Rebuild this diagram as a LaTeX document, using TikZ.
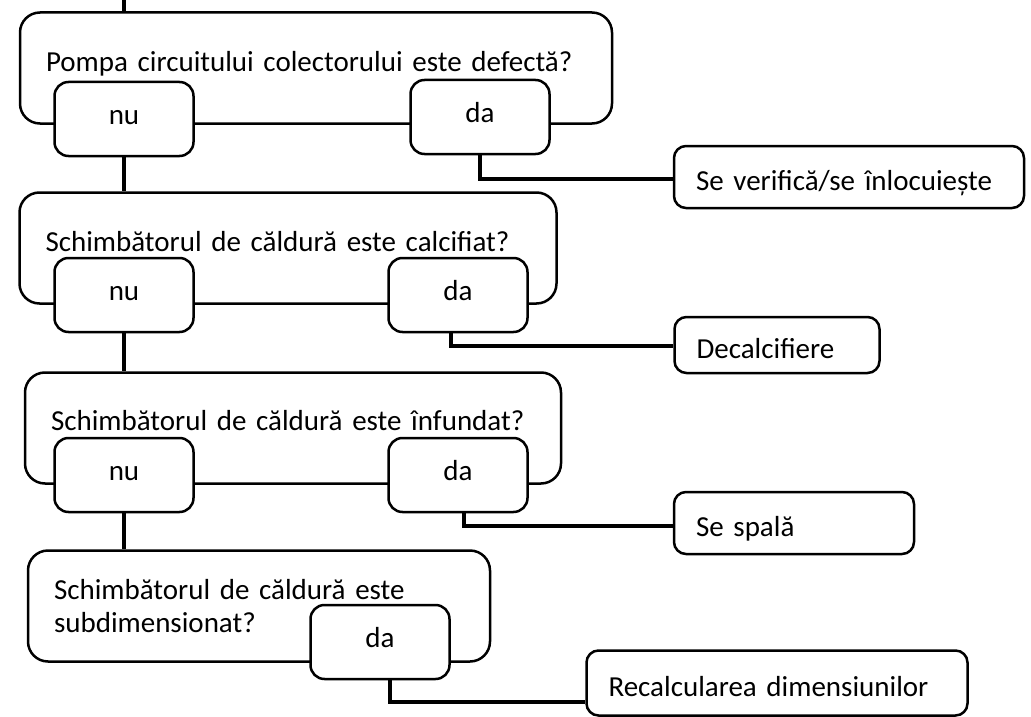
\documentclass[tikz,border=0pt]{standalone}
\usepackage{fontspec}
\setmainfont{Carlito}
\usetikzlibrary{positioning}
\tikzstyle{question} = [rectangle, rounded corners=20pt, draw=black, line width=2.5pt, align=left, inner xsep=26pt, minimum height=111pt, font=\fontsize{29}{33}\selectfont]
\tikzstyle{reply} = [rectangle, rounded corners=14pt, draw=black, fill=white, line width=2.5pt, minimum width=139pt, minimum height=74pt, text height=20pt, text depth=10pt, font=\fontsize{29}{33}\selectfont]
\tikzstyle{action} = [rectangle, rounded corners=12pt, draw=black, line width=2.5pt, align=left, inner xsep=22pt, text height=30pt, text depth=4pt, font=\fontsize{29}{33}\selectfont]
\tikzstyle{line} = [line width=3.5pt]

\begin{document}
\begin{tikzpicture}[x=1pt,y=-1pt]
    \useasboundingbox (0,0) rectangle (1031,717);

    % Nodes
    \coordinate (start) at (124,0);
    \node[question, text width=540pt, minimum width=592pt, text height=22pt, text depth=16pt] (q1) at (316,68) {Pompa circuitului colectorului este defectă?};
    \node[reply] (nu1) at (124,119) {nu};
    \node[reply] (da1) at (480,117) {da};
    \node[action, text width=306pt, minimum height=62pt] (act1) at (849,177) {Se verifică/se înlocuiește};

    \node[question, text width=485pt, minimum width=537pt, text height=22pt, text depth=16pt] (q2) at (288,248) {Schimbătorul de căldură este calcifiat?};
    \node[reply] (nu2) at (124,295) {nu};
    \node[reply] (da2) at (458,295) {da};
    \node[action, text width=161pt, minimum height=56pt] (act2) at (777,345) {Decalcifiere};

    \node[question, text width=484pt, minimum width=536pt, text height=22pt, text depth=18pt] (q3) at (293,428) {Schimbătorul de căldură este înfundat?};
    \node[reply] (nu3) at (124,475) {nu};
    \node[reply] (da3) at (458,475) {da};
    \node[action, text width=196pt, minimum height=62pt] (act3) at (794,523) {Se spală};

    \node[question, text width=410pt, minimum width=462pt] (q4) at (259,606) {Schimbătorul de căldură este\\subdimensionat?};
    \node[reply] (da4) at (380,642) {da};
    \node[action, text width=337pt, minimum height=65pt] (act4) at (777,683) {Recalcularea dimensiunilor};

    % Lines
    \draw[line] (start) -- (start |- q1.north);
    \draw[line] (nu1.south) -- (nu1.south |- q2.north);
    \draw[line] (nu2.south) -- (nu2.south |- q3.north);
    \draw[line] (nu3.south) -- (nu3.south |- q4.north);
    \draw[line] (da1.south) |- ([yshift=-2pt]act1.west);
    \draw[line] ([xshift=-7pt]da2.south) |- ([yshift=-1pt]act2.west);
    \draw[line] ([xshift=6pt]da3.south) |- ([yshift=-3pt]act3.west);
    \draw[line] ([xshift=10pt]da4.south) |- ([yshift=-19pt]act4.west);

\end{tikzpicture}
\end{document}
